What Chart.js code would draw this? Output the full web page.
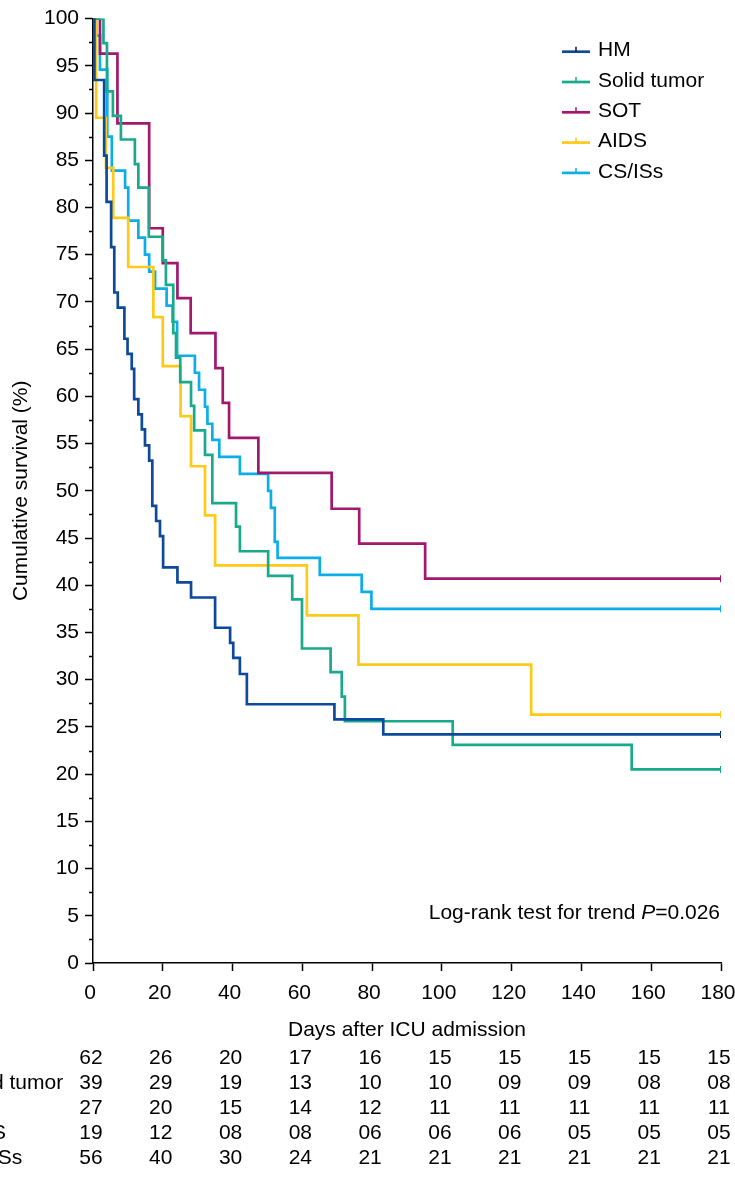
<!DOCTYPE html>
<html><head><meta charset="utf-8">
<script src="https://cdn.jsdelivr.net/npm/chart.js@4"></script>
<style>html,body{margin:0;padding:0;background:#fff;}#wrap{width:735px;height:1184px;position:relative;}</style>
</head><body><div id="wrap"><canvas id="c" width="735" height="1184"></canvas></div>
<script>
const groups = ['HM','Solid tumor','SOT','AIDS','CS/ISs'];
const colors = ['#0d4a9b','#18aa8b','#a1186d','#fdca1a','#0daee8'];
const endTickColors = ['#1a1a1a','#18aa8b','#a1186d','#fdca1a','#0daee8'];

const hmDays = [0,0.4,3.2,3.9,5.2,6.1,7.1,9.0,9.9,11.1,11.8,13.0,14.0,14.9,16.1,17.0,18.1,19.2,20.1,24.2,28.1,35.0,39.3,40.2,42.1,44.1,69.2,83.2,180];
const hmSurv = [100,93.5,85.5,80.6,75.8,71.0,69.4,66.1,64.5,62.9,59.7,58.1,56.5,54.8,53.2,48.4,46.8,45.2,41.9,40.3,38.7,35.5,33.9,32.3,30.6,27.4,25.8,24.2,24.2];

const solidDays = [0,3.0,4.0,5.7,8.0,12.0,13.0,16.0,20.0,20.9,23.0,23.8,25.0,28.1,29.0,32.1,34.2,41.0,42.1,50.2,57.1,59.9,68.1,71.3,72.2,103.1,154.4,180];
const solidSurv = [100,97.4,92.3,89.7,87.2,84.6,82.1,76.9,74.4,71.8,66.7,64.1,61.5,59.0,56.4,53.8,48.7,46.2,43.6,41.0,38.5,33.3,30.8,28.2,25.6,23.1,20.5,20.5];

const sotDays = [0,2.0,7.0,16.1,20.0,24.2,28.0,35.1,37.2,39.0,47.4,68.4,76.3,95.2,180];
const sotSurv = [100,96.3,88.9,77.8,74.1,70.4,66.7,63.0,59.3,55.6,51.9,48.1,44.4,40.7,40.7];

const aidsDays = [0,0.9,3.7,5.8,10.1,17.3,20.0,25.1,28.1,32.1,35.0,61.3,76.1,125.6,180];
const aidsSurv = [100,89.5,84.2,78.9,73.7,68.4,63.2,57.9,52.6,47.4,42.1,36.8,31.6,26.3,26.3];

const csDays = [0,0.9,2.0,4.1,5.4,9.2,10.1,13.0,14.9,16.1,17.8,21.1,22.8,24.1,29.2,30.4,32.1,32.8,34.2,36.2,42.1,50.2,51.0,52.1,52.9,65.0,77.0,79.8,180];
const csSurv = [100,98.2,94.6,87.5,83.9,82.1,78.6,76.8,75.0,73.2,71.4,69.6,67.9,64.3,62.5,60.7,58.9,57.1,55.4,53.6,51.8,50.0,48.2,44.6,42.9,41.1,39.3,37.5,37.5];

const xTicks = [0,20,40,60,80,100,120,140,160,180];
const hmRisk    = ['62','26','20','17','16','15','15','15','15','15'];
const solidRisk = ['39','29','19','13','10','10','09','09','08','08'];
const sotRisk   = ['27','20','15','14','12','11','11','11','11','11'];
const aidsRisk  = ['19','12','08','08','06','06','06','05','05','05'];
const csRisk    = ['56','40','30','24','21','21','21','21','21','21'];

const allDays = [hmDays, solidDays, sotDays, aidsDays, csDays];
const allSurv = [hmSurv, solidSurv, sotSurv, aidsSurv, csSurv];
const allRisk = [hmRisk, solidRisk, sotRisk, aidsRisk, csRisk];

const FONT = "'Liberation Sans', Arial, Helvetica, sans-serif";
Chart.defaults.font.family = FONT;
Chart.defaults.font.size = 21;
Chart.defaults.color = '#000';

const datasets = [];
groups.forEach((g, i) => {
  datasets.push({
    label: g,
    data: allDays[i].map((d, k) => ({x: d, y: allSurv[i][k]})),
    borderColor: colors[i],
    backgroundColor: colors[i],
    borderWidth: 2.7,
    stepped: 'before',
    pointRadius: 0,
    fill: false,
    order: i
  });
});
groups.forEach((g, i) => {
  const n = allDays[i].length - 1;
  datasets.push({
    type: 'scatter',
    label: g + ' censored',
    data: [{x: allDays[i][n], y: allSurv[i][n]}],
    pointStyle: 'line',
    rotation: 90,
    radius: 3.5,
    borderWidth: 2,
    borderColor: endTickColors[i],
    showLine: false
  });
});

const extras = {
  id: 'extras',
  afterDraw(chart) {
    const ctx = chart.ctx;
    const xs = chart.scales.x, ys = chart.scales.y;
    ctx.save();
    // minor y ticks
    ctx.strokeStyle = '#000';
    ctx.lineWidth = 1.5;
    for (let v = 2.5; v < 100; v += 5) {
      const py = Math.round(ys.getPixelForValue(v)) + 0.5;
      ctx.beginPath();
      ctx.moveTo(xs.left - 4, py);
      ctx.lineTo(xs.left, py);
      ctx.stroke();
    }
    // legend
    ctx.font = '21px ' + FONT;
    ctx.textBaseline = 'middle';
    ctx.textAlign = 'left';
    groups.forEach((g, i) => {
      const ly = 51.7 + 30.3 * i;
      ctx.strokeStyle = colors[i];
      ctx.lineWidth = 2.7;
      ctx.beginPath(); ctx.moveTo(562, ly); ctx.lineTo(590, ly); ctx.stroke();
      ctx.strokeStyle = endTickColors[i];
      ctx.lineWidth = 1.5;
      ctx.beginPath(); ctx.moveTo(576, ly - 5); ctx.lineTo(576, ly); ctx.stroke();
      ctx.fillStyle = '#000';
      ctx.fillText(g, 598, ly - 1);
    });
    // log-rank text
    ctx.textBaseline = 'alphabetic';
    const t1 = 'Log-rank test for trend ', t2 = 'P', t3 = '=0.026';
    ctx.font = '21px ' + FONT;
    const w1 = ctx.measureText(t1).width, w3 = ctx.measureText(t3).width;
    ctx.font = 'italic 21px ' + FONT;
    const w2 = ctx.measureText(t2).width;
    let sx = 720 - (w1 + w2 + w3);
    const by = 919;
    ctx.font = '21px ' + FONT; ctx.fillText(t1, sx, by);
    ctx.font = 'italic 21px ' + FONT; ctx.fillText(t2, sx + w1, by);
    ctx.font = '21px ' + FONT; ctx.fillText(t3, sx + w1 + w2, by);
    // at-risk table
    ctx.font = '21px ' + FONT;
    ctx.textBaseline = 'middle';
    groups.forEach((g, i) => {
      const ry = 1058 + 25 * i;
      ctx.textAlign = 'left';
      ctx.fillText(g, -43, ry);
      ctx.textAlign = 'center';
      xTicks.forEach((t, k) => {
        ctx.fillText(allRisk[i][k], xs.getPixelForValue(t) - 2, ry);
      });
    });
    ctx.restore();
  }
};

new Chart(document.getElementById('c'), {
  type: 'line',
  data: { datasets },
  options: {
    responsive: false,
    animation: false,
    devicePixelRatio: 1,
    layout: { padding: { top: 17, right: 14, bottom: 0, left: 0 } },
    plugins: { legend: { display: false }, tooltip: { enabled: false } },
    scales: {
      x: {
        type: 'linear', min: 0, max: 180,
        afterFit(s) { s.height = 221; s.paddingLeft = 0; s.paddingRight = 0; },
        ticks: { stepSize: 20, padding: 10, labelOffset: -3, maxRotation: 0, autoSkip: false, font: { size: 21 } },
        grid: { drawOnChartArea: false, drawTicks: true, tickLength: 8, tickColor: '#000', tickWidth: 1.5 },
        border: { display: true, color: '#000', width: 1.5 },
        title: { display: true, text: 'Days after ICU admission', font: { size: 21 }, padding: { top: 0, bottom: 141 } }
      },
      y: {
        min: 0, max: 100,
        afterFit(s) { s.width = 93; },
        ticks: {
          stepSize: 2.5, autoSkip: false, padding: 6, font: { size: 21 },
          callback: (v) => (v % 5 === 0 ? String(v) : '')
        },
        grid: {
          drawOnChartArea: false, drawTicks: true, tickLength: 8, tickWidth: 1.5,
          tickColor: (c) => (c.tick && c.tick.value % 5 === 0 ? '#000' : 'rgba(0,0,0,0)')
        },
        border: { display: true, color: '#000', width: 1.5 },
        title: { display: true, text: 'Cumulative survival (%)', font: { size: 21 }, padding: { top: 9, bottom: 0 } }
      }
    }
  },
  plugins: [extras]
});
</script></body></html>
